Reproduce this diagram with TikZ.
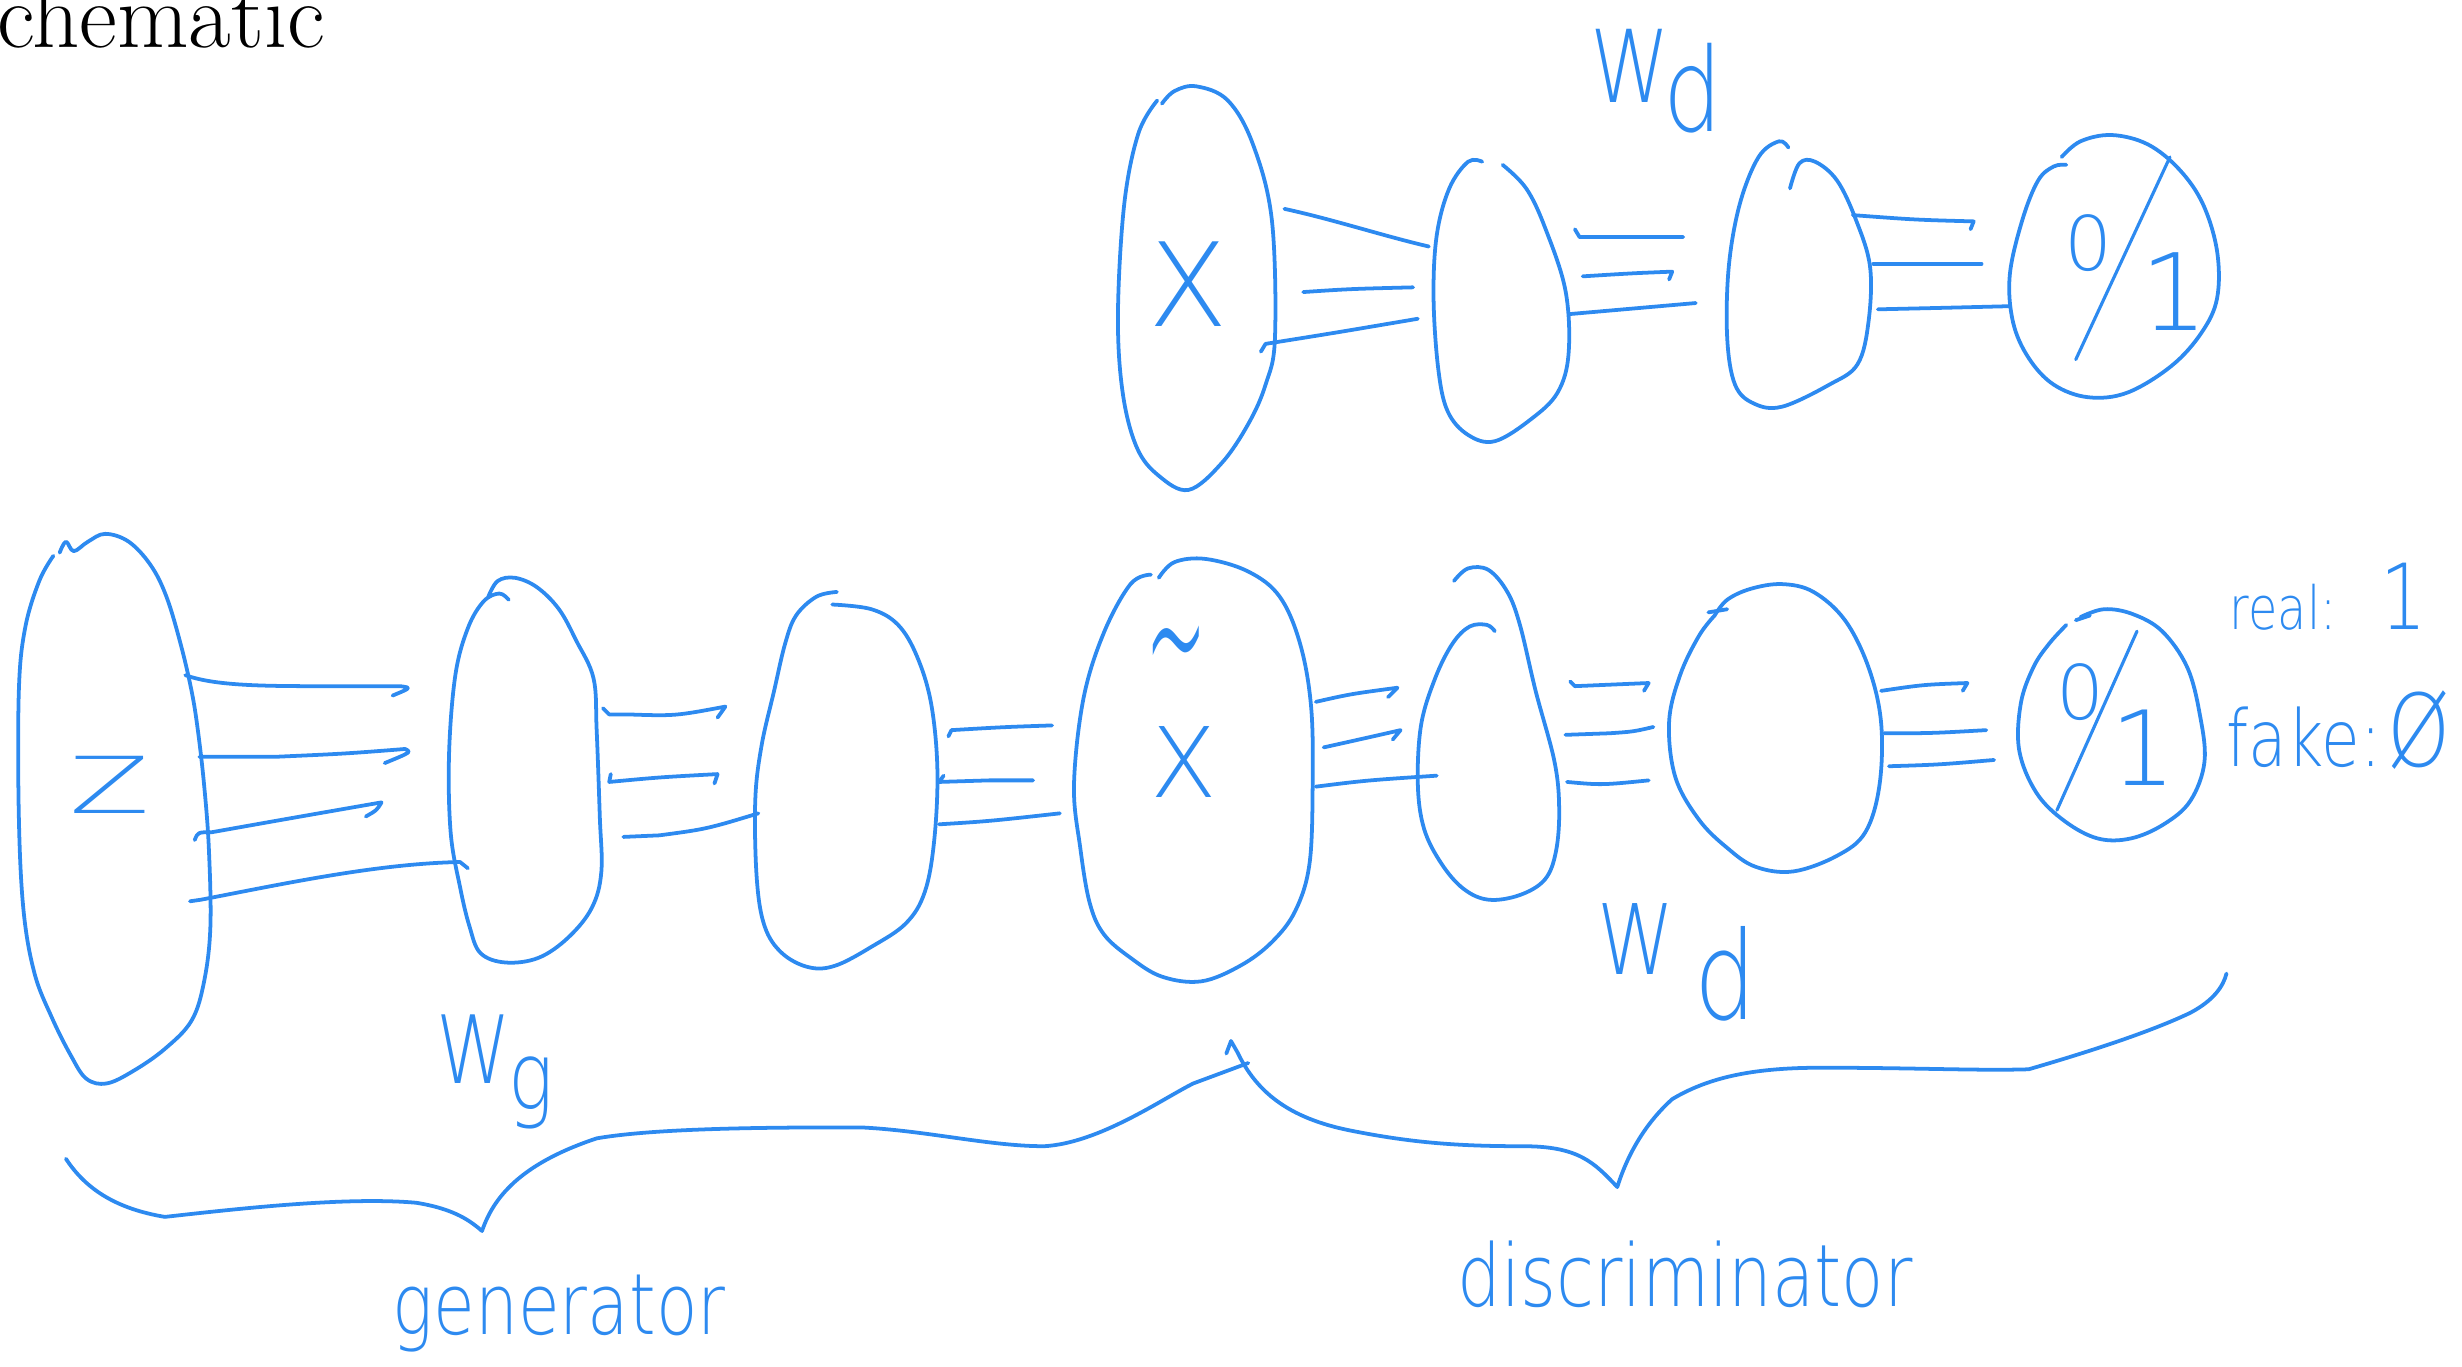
\documentclass[tikz,border=0pt]{standalone}
\usepackage{fontspec}
\newfontfamily\hand{DejaVu Sans ExtraLight}
\newfontfamily\handn{DejaVu Sans ExtraLight}[FakeStretch=0.8]
\definecolor{pen}{RGB}{45,138,240}
\newcommand{\fs}[1]{\fontsize{#1}{#1}\selectfont}
\begin{document}
\begin{tikzpicture}[x=1pt,y=-1pt,
  ink/.style={draw=pen, line width=2.4pt, line cap=round, line join=round},
  hw/.style={text=pen, inner sep=0pt}]
\useasboundingbox (0,0) rectangle (1568,870);

% title fragment
\node[anchor=base west, inner sep=0pt, font=\fs{59}] (title) at (-2,30) {chematic};

% ================= top network =================
\draw[ink] plot[smooth, tension=0.6] coordinates {(740,66) (748,58) (762,55) (782,64) (798,92) (810,140) (812,215) (806,245) (795,270) (778,295) (757,312) (738,303) (724,285) (715,250) (712,200) (716,130) (725,85) (737,64)};
\node[hw, font=\hand\fs{74}] (tx) at (757,181) {X};

\draw[ink] plot[smooth, tension=0.6] coordinates {(957,105) (972,120) (984,145) (997,185) (999,225) (992,250) (975,267) (952,281) (935,277) (922,262) (916,235) (913,190) (915,150) (923,120) (935,103) (944,103)};

\draw[ink] plot[smooth, tension=0.6] coordinates {(1140,120) (1146,104) (1156,103) (1170,115) (1182,140) (1191,170) (1190,205) (1183,232) (1165,245) (1135,259) (1117,257) (1105,245) (1100,215) (1101,170) (1108,130) (1120,100) (1133,90) (1139,94)};

\draw[ink] plot[smooth, tension=0.6] coordinates {(1313,100) (1325,90) (1345,86) (1368,92) (1388,108) (1403,130) (1412,160) (1412,190) (1402,212) (1383,233) (1355,250) (1330,253) (1308,245) (1292,228) (1282,205) (1280,175) (1288,140) (1298,115) (1308,106) (1316,105)};
\node[hw, font=\hand\fs{48}] (t0) at (1330,155) {0};
\draw[ink, line width=2pt] (1382,100) -- (1322,229);
\node[hw, font=\hand\fs{68}] (t1) at (1385,186) {1};

% top connectors
\draw[ink] (818,133) .. controls (850,140) and (880,150) .. (910,157);
\draw[ink] (830,186) .. controls (860,184) .. (900,183);
\draw[ink] (803,224) -- (806,219) .. controls (850,212) .. (903,203);
\draw[ink] (1003,146) -- (1006,151) -- (1072,151);
\draw[ink] (1008,176) .. controls (1040,174) .. (1065,173) -- (1063,178);
\draw[ink] (1000,200) .. controls (1040,196) .. (1080,193);
\draw[ink] (1180,137) .. controls (1220,140) .. (1257,141) -- (1255,146);
\draw[ink] (1193,168) -- (1262,168);
\draw[ink] (1196,197) .. controls (1240,196) .. (1280,195);

% W_d top
\node[hw, font=\handn\fs{64}] (wdt) at (1038,42) {W};
\node[hw, font=\handn\fs{74}] (dt) at (1078,56) {d};

% ================= bottom network =================
% z layer
\draw[ink] plot[smooth, tension=0.6] coordinates {(38,352) (42,345) (47,351) (56,345) (67,340) (82,345) (96,360) (106,380) (115,410) (122,440) (126,465) (130,500) (133,540) (134,590) (130,625) (122,650) (105,668) (85,682) (68,690) (55,687) (45,672) (33,648) (22,620) (15,580) (12,520) (12,440) (16,400) (25,370) (34,354)};
\node[hw, font=\hand\fs{50}] (z) at (70,500) {\scalebox{1.5}[1]{Z}};

\draw[ink] (118,430) .. controls (135,436) and (160,437) .. (200,437) -- (255,437) .. controls (262,438) .. (250,443);
\draw[ink] (127,482) -- (175,482) .. controls (220,480) .. (258,477) .. controls (262,479) .. (245,486);
\draw[ink] (124,535) .. controls (126,530) .. (135,530) .. controls (180,522) .. (243,511) .. controls (240,516) .. (233,520);
\draw[ink] (121,574) -- (128,573) .. controls (180,563) and (240,550) .. (293,549) -- (298,553);

% g1 layer
\draw[ink] plot[smooth, tension=0.6] coordinates {(311,380) (317,370) (328,368) (342,374) (356,388) (367,408) (378,432) (380,465) (382,520) (383,555) (377,578) (362,597) (343,610) (322,613) (306,607) (299,590) (293,565) (287,530) (286,480) (290,430) (298,400) (308,383) (318,378) (324,382)};

\draw[ink] (384,451) -- (388,455) -- (400,455) .. controls (430,456) .. (462,450) -- (457,457);
\draw[ink] (389,493) -- (388,498) .. controls (420,495) .. (457,493) -- (455,499);
\draw[ink] (397,533) -- (420,532) .. controls (450,528) .. (483,518);

% g2 layer
\draw[ink] plot[smooth, tension=0.6] coordinates {(533,377) (520,380) (507,392) (500,410) (493,440) (485,475) (481,510) (482,560) (487,590) (498,607) (515,616) (532,615) (555,603) (577,588) (589,568) (595,535) (597,490) (593,448) (584,418) (572,398) (555,388) (530,385)};

\draw[ink] (604,469) -- (606,465) .. controls (640,463) .. (670,462);
\draw[ink] (601,494) -- (598,498) -- (630,497) -- (658,497);
\draw[ink] (598,525) .. controls (630,523) .. (675,518);

% x tilde layer
\draw[ink] plot[smooth, tension=0.6] coordinates {(738,368) (748,358) (768,356) (795,364) (815,380) (828,410) (835,450) (836,500) (834,550) (825,580) (810,600) (790,615) (765,625) (740,622) (720,610) (703,595) (694,575) (688,540) (684,500) (690,445) (703,403) (720,372) (733,366)};
\node[hw, font=\hand\fs{62}] (xt) at (754,485) {X};
\node[hw, font=\hand\fs{85}] (tilde) at (749,426) {\scalebox{0.55}[1.7]{\char"7E}};

\draw[ink] (838,447) .. controls (860,442) .. (890,438) -- (884,444);
\draw[ink] (843,476) .. controls (870,470) .. (892,465) -- (887,471);
\draw[ink] (838,501) .. controls (870,497) .. (915,494);

% d1 layer
\draw[ink] plot[smooth, tension=0.6] coordinates {(926,370) (935,362) (948,363) (960,377) (968,398) (978,440) (990,485) (993,515) (991,542) (984,560) (968,570) (948,573) (932,566) (918,550) (907,528) (903,500) (905,462) (914,432) (925,410) (936,399) (947,398) (952,402)};

\draw[ink] (1000,434) -- (1003,437) -- (1050,435) -- (1047,440);
\draw[ink] (997,468) -- (1025,467) .. controls (1040,466) .. (1053,463);
\draw[ink] (998,498) .. controls (1020,500) .. (1050,497);

% d2 layer
\draw[ink] (1088,390) -- (1100,388);
\draw[ink] plot[smooth, tension=0.6] coordinates {(1092,392) (1100,382) (1115,375) (1135,372) (1155,377) (1175,395) (1190,425) (1198,460) (1197,500) (1188,530) (1170,545) (1142,555) (1118,552) (1100,540) (1082,522) (1067,495) (1063,460) (1070,430) (1082,405) (1092,392)};

\draw[ink] (1198,440) .. controls (1225,436) .. (1253,435) -- (1250,440);
\draw[ink] (1200,467) .. controls (1230,467) .. (1265,465);
\draw[ink] (1203,488) .. controls (1235,487) .. (1270,484);

% output
\draw[ink] (1322,395) -- (1331,392);
\draw[ink] plot[smooth, tension=0.6] coordinates {(1325,393) (1340,388) (1358,391) (1377,402) (1393,425) (1401,455) (1404,485) (1395,510) (1378,525) (1357,534) (1336,534) (1315,523) (1297,505) (1286,478) (1287,448) (1295,425) (1305,410) (1316,398)};
\node[hw, font=\hand\fs{48}] (b0) at (1325,441) {0};
\draw[ink, line width=2pt] (1361,402) -- (1310,516);
\node[hw, font=\hand\fs{66}] (b1) at (1365,476) {1};

\node[hw, anchor=base west, font=\handn] (real) at (1420,401) {\fs{38}real:\hspace{28pt}\fs{58}1};
\node[hw, anchor=base west, font=\handn] (fake) at (1418,488) {\fs{50}fake:\hspace{4pt}\fs{64}Ø};

% weights labels
\node[hw, font=\handn\fs{60}] (wg) at (302,668) {W};
\node[hw, font=\handn\fs{60}] (g) at (338,696) {g};
\node[hw, font=\handn\fs{62}] (wdb) at (1042,598) {W};
\node[hw, font=\handn\fs{78}] (db) at (1099,620) {d};

% braces
\draw[ink] (42,738) .. controls (55,758) and (75,770) .. (105,775) .. controls (150,770) and (220,762) .. (265,766) .. controls (290,770) and (300,778) .. (307,784) .. controls (315,760) and (335,740) .. (380,725) .. controls (420,718) and (500,718) .. (548,718) .. controls (590,720) and (630,730) .. (665,730) .. controls (700,728) and (740,700) .. (760,690) -- (795,677);
\draw[ink] (781,671) -- (784,663) -- (788,670) .. controls (800,695) and (820,712) .. (860,720) .. controls (900,728) and (930,730) .. (970,730) .. controls (1005,730) and (1015,740) .. (1030,756) .. controls (1035,740) and (1045,718) .. (1065,700) .. controls (1090,685) and (1120,680) .. (1160,680) .. controls (1220,680) and (1260,682) .. (1292,681) .. controls (1330,670) and (1370,657) .. (1395,645) .. controls (1410,637) and (1416,628) .. (1418,620);

\node[hw, anchor=base west, font=\handn\fs{54}] (gen) at (250,850) {generator};
\node[hw, anchor=base west, font=\handn\fs{55}] (disc) at (928,832) {discriminator};
\end{tikzpicture}
\end{document}
